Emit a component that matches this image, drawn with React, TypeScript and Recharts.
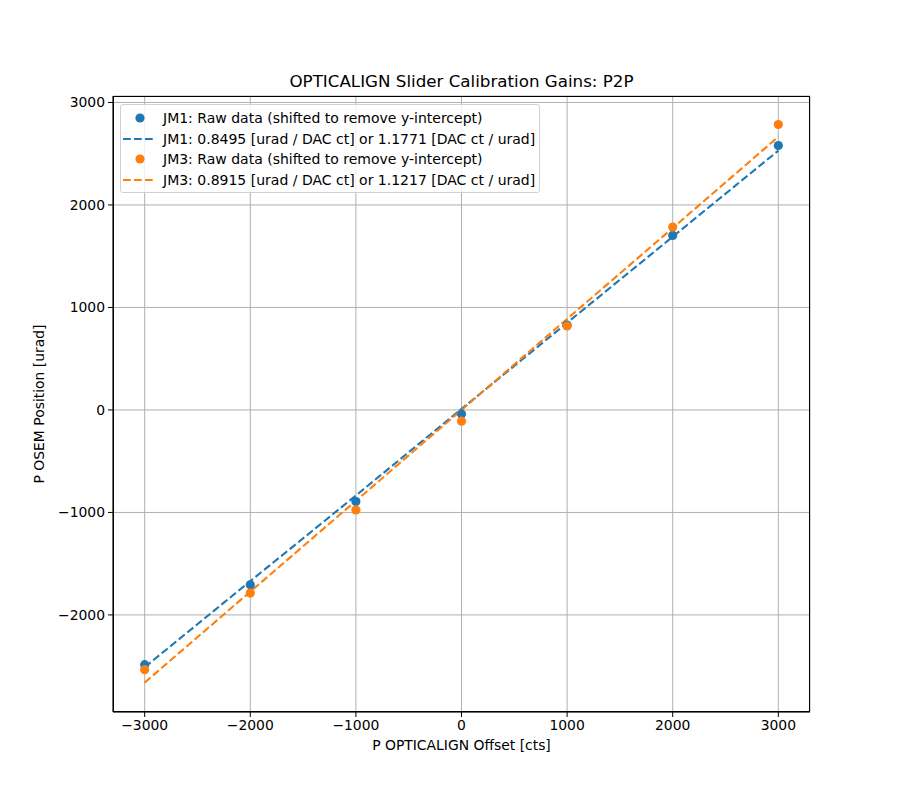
import { ComposedChart, Scatter, Line, XAxis, YAxis, CartesianGrid } from 'recharts'

const offsets = [-3000, -2000, -1000, 0, 1000, 2000, 3000]
const jm1Raw = [-2485, -1706, -894, -39, 828, 1703, 2580]
const jm3Raw = [-2534, -1787, -975, -110, 819, 1784, 2785]
const jm1Fit = [-2510, -1670, -835, 10, 850, 1690, 2530]
const jm3Fit = [-2660, -1773, -887, 0, 888, 1775, 2665]

const xTicks = [-3000, -2000, -1000, 0, 1000, 2000, 3000]
const yTicks = [-2000, -1000, 0, 1000, 2000, 3000]

const legendItems = [
  { kind: 'dot', color: '#1f77b4', label: 'JM1: Raw data (shifted to remove y-intercept)' },
  { kind: 'line', color: '#1f77b4', label: 'JM1: 0.8495 [urad / DAC ct] or 1.1771 [DAC ct / urad]' },
  { kind: 'dot', color: '#ff7f0e', label: 'JM3: Raw data (shifted to remove y-intercept)' },
  { kind: 'line', color: '#ff7f0e', label: 'JM3: 0.8915 [urad / DAC ct] or 1.1217 [DAC ct / urad]' },
]

const toRows = (ys: number[]) => offsets.map((x, i) => ({ x, y: ys[i] }))

const fmt = (v: number) => (v < 0 ? `\u2212${Math.abs(v)}` : `${v}`)

const font = '"DejaVu Sans", sans-serif'
const tickStyle = { fontSize: 13.9, fill: '#000', fontFamily: font }

function LegendBox() {
  return (
    <div
      style={{
        position: 'absolute',
        left: 120,
        top: 104,
        width: 418,
        height: 87,
        border: '1px solid #d0d0d0',
        borderRadius: 3,
        background: 'rgba(255,255,255,0.8)',
        fontFamily: font,
        fontSize: 14,
        color: '#000',
      }}
    >
      {legendItems.map((item, i) => (
        <div
          key={i}
          style={{ position: 'absolute', left: 0, top: 3 + i * 20.6, height: 20, display: 'flex', alignItems: 'center' }}
        >
          <svg width={42} height={20}>
            {item.kind === 'dot' ? (
              <circle cx={19} cy={10} r={4.6} fill={item.color} />
            ) : (
              <line x1={2} y1={10} x2={34} y2={10} stroke={item.color} strokeWidth={2.1} strokeDasharray="7.7 3.3" />
            )}
          </svg>
          <span style={{ whiteSpace: 'nowrap' }}>{item.label}</span>
        </div>
      ))}
    </div>
  )
}

export default function App() {
  return (
    <div style={{ position: 'fixed', left: 0, top: 0, width: 900, height: 800, background: '#fff' }}>
      <div
        style={{
          position: 'absolute',
          left: 113,
          width: 697,
          top: 71,
          textAlign: 'center',
          fontFamily: font,
          fontSize: 16.7,
          color: '#000',
        }}
      >
        OPTICALIGN Slider Calibration Gains: P2P
      </div>
      <ComposedChart width={900} height={800} margin={{ top: 96, right: 90, bottom: 48, left: 53 }}>
        <CartesianGrid stroke="#b0b0b0" strokeWidth={1} />
        <XAxis
          type="number"
          dataKey="x"
          domain={[-3300, 3300]}
          ticks={xTicks}
          tickFormatter={fmt}
          height={40}
          tick={tickStyle}
          tickSize={5}
          tickMargin={3}
          stroke="#000"
          allowDataOverflow
          label={{ value: 'P OPTICALIGN Offset [cts]', position: 'insideBottom', offset: 2, style: { fontSize: 13.9, fill: '#000', fontFamily: font } }}
        />
        <YAxis
          type="number"
          dataKey="y"
          domain={[-2947, 3063]}
          ticks={yTicks}
          tickFormatter={fmt}
          width={60}
          tick={tickStyle}
          tickSize={5}
          tickMargin={3}
          stroke="#000"
          allowDataOverflow
          label={{ value: 'P OSEM Position [urad]', angle: -90, position: 'insideLeft', offset: -14, style: { fontSize: 13.9, fill: '#000', fontFamily: font, textAnchor: 'middle' } }}
        />
        <Scatter data={toRows(jm1Raw)} dataKey="y" fill="#1f77b4" isAnimationActive={false} shape={(p: any) => <circle cx={p.cx} cy={p.cy} r={4.6} fill="#1f77b4" />} />
        <Line data={toRows(jm1Fit)} dataKey="y" stroke="#1f77b4" strokeWidth={2.1} strokeDasharray="7.7 3.3" dot={false} activeDot={false} isAnimationActive={false} />
        <Scatter data={toRows(jm3Raw)} dataKey="y" fill="#ff7f0e" isAnimationActive={false} shape={(p: any) => <circle cx={p.cx} cy={p.cy} r={4.6} fill="#ff7f0e" />} />
        <Line data={toRows(jm3Fit)} dataKey="y" stroke="#ff7f0e" strokeWidth={2.1} strokeDasharray="7.7 3.3" dot={false} activeDot={false} isAnimationActive={false} />
      </ComposedChart>
      {/* axes frame, like matplotlib's spines */}
      <div
        style={{
          position: 'absolute',
          left: 113,
          top: 96,
          width: 697,
          height: 616,
          boxSizing: 'border-box',
          border: '1px solid #000',
          pointerEvents: 'none',
        }}
      />
      <LegendBox />
    </div>
  )
}
